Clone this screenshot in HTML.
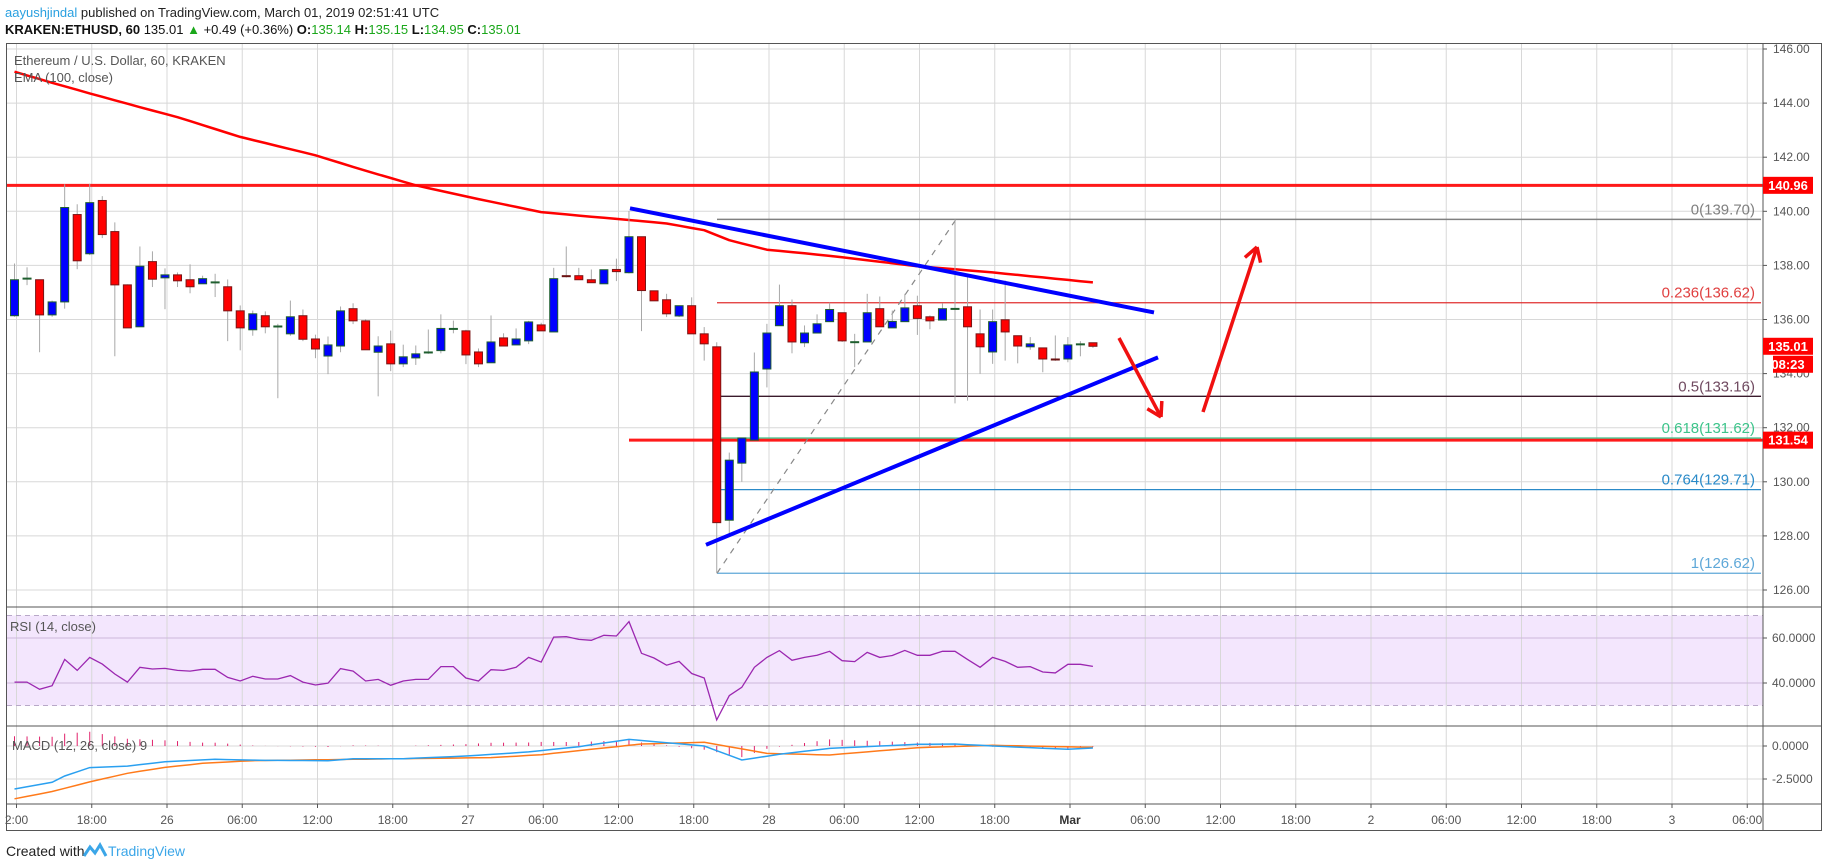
<!DOCTYPE html>
<html><head><meta charset="utf-8">
<style>
body{margin:0;background:#fff;width:1828px;height:868px;overflow:hidden;font-family:"Liberation Sans Narrow","Liberation Sans",sans-serif;}
#hdr1{position:absolute;left:5px;top:5px;font-size:13px;color:#222;white-space:nowrap}
#hdr2{position:absolute;left:5px;top:22px;font-size:13px;color:#111;white-space:nowrap}
.g{color:#1aa71a}.b{color:#2aa0e0}
svg{position:absolute;left:0;top:0}
</style></head><body>
<div id="hdr1"><span class="b">aayushjindal</span> published on TradingView.com, March 01, 2019 02:51:41 UTC</div>
<div id="hdr2"><b>KRAKEN:ETHUSD, 60</b> 135.01 <span class="g">▲</span> +0.49 (+0.36%) <b>O:</b><span class="g">135.14</span> <b>H:</b><span class="g">135.15</span> <b>L:</b><span class="g">134.95</span> <b>C:</b><span class="g">135.01</span></div>
<svg id="chart" width="1828" height="868" xmlns="http://www.w3.org/2000/svg"></svg>
<script>
const opens=[136.14,137.52,137.47,136.17,136.65,139.88,138.43,140.40,139.25,137.28,135.73,138.14,137.54,137.65,137.47,137.32,137.38,137.21,136.32,135.62,136.14,135.75,135.47,136.14,135.28,134.65,135.02,136.40,135.95,134.79,135.10,134.36,134.58,134.73,134.85,135.66,135.58,134.80,134.40,135.32,135.06,135.21,135.80,135.54,137.62,137.62,137.47,137.32,137.85,137.73,139.06,137.06,136.73,136.13,136.51,135.47,134.99,128.58,130.69,131.54,134.17,135.77,136.51,135.14,135.50,135.92,136.25,135.17,135.17,136.40,135.69,135.92,136.51,136.10,135.98,136.40,136.47,135.47,134.80,135.99,135.40,134.99,134.95,134.54,134.54,135.09,135.14];
const highs=[138.07,137.93,137.47,136.70,141.00,140.26,141.02,140.56,139.59,137.30,138.70,138.52,137.89,137.74,138.04,137.62,137.69,137.48,136.52,136.33,136.30,135.84,136.70,136.37,135.44,135.37,136.48,136.60,136.01,135.38,135.59,135.07,135.04,135.63,136.19,135.96,135.62,134.93,136.15,135.49,135.67,135.95,135.88,137.91,138.70,137.91,137.85,137.84,138.25,140.01,139.06,137.06,136.95,136.51,136.82,135.72,135.16,131.08,131.62,134.78,135.84,137.29,136.74,135.78,136.19,136.62,136.25,135.47,136.95,136.85,136.33,136.95,136.88,136.15,136.60,139.70,137.57,136.37,136.37,137.44,135.40,135.35,134.95,135.41,135.35,135.20,135.15];
const lows=[136.10,137.27,134.79,136.10,136.40,137.86,138.38,139.01,134.64,135.69,135.73,137.20,136.38,137.20,136.97,137.32,136.83,135.20,134.86,135.40,135.49,133.09,135.40,135.20,134.57,133.98,134.79,135.83,134.88,133.16,134.09,134.24,134.32,134.73,134.75,135.49,134.35,134.24,134.40,135.02,135.06,135.09,135.58,135.54,137.55,137.47,137.36,137.32,137.42,137.70,135.57,136.69,136.09,136.09,135.47,134.48,126.62,128.06,130.00,131.54,133.49,135.77,134.75,134.98,135.50,135.92,135.17,134.24,135.17,135.73,135.69,135.92,135.43,135.64,135.98,132.90,133.00,133.99,134.36,134.48,134.38,134.88,134.05,134.47,134.42,134.64,134.95];
const closes=[137.47,137.53,136.17,136.65,140.14,138.17,140.32,139.14,137.28,135.69,137.97,137.49,137.65,137.43,137.21,137.51,137.39,136.32,135.69,136.21,135.73,135.76,136.10,135.27,134.91,135.06,136.32,135.95,134.88,135.02,134.36,134.62,134.73,134.80,135.67,135.67,134.69,134.36,135.17,135.02,135.28,135.91,135.58,137.51,137.58,137.47,137.36,137.84,137.77,139.06,137.07,136.69,136.21,136.51,135.47,135.10,128.49,130.80,131.62,134.06,135.50,136.51,135.17,135.50,135.84,136.37,135.21,135.18,136.25,135.73,135.93,136.43,136.04,135.95,136.40,136.41,135.73,134.99,135.92,135.54,135.02,135.10,134.54,134.47,135.06,135.10,135.01];
const emaIdx=[0,3,6,10,13,18,24,28,32,37,42,46,49,52,55,57,60,63,66,72,78,86];
const emaVal=[145.16,144.75,144.36,143.85,143.48,142.75,142.07,141.5,140.96,140.45,139.97,139.8,139.68,139.55,139.30,138.93,138.58,138.45,138.30,137.97,137.74,137.37];
const rsiVals=[40.4,40.4,37.2,38.8,50.5,45.6,51.4,48.4,44,40.4,47,46.2,46.5,45.6,45.3,46.1,46.1,42.5,40.9,43,41.8,41.8,43.3,40.4,39.1,39.9,46.4,45.3,40.9,41.6,39,40.9,41.6,41.6,47.3,47.3,42.2,40.9,45.9,45.6,47,51.4,49.3,60.4,60.6,59.4,59,61.2,60.9,67.3,53.2,51.1,47.9,49.6,44.2,42.2,23.6,34.4,38.1,47,51.4,54.4,50.1,51.4,52.3,54.1,49.9,49.5,53.6,51.4,52.2,54.5,52.3,52.3,54.1,54.1,50.5,47,51.4,49.6,47,47.3,44.9,44.5,48.3,48.3,47.4];
const macdIdx=[0,3,4,6,9,12,16,20,25,27,31,36,41,45,49,55,58,61,65,72,75,78,84,86];
const macdVal=[-3.26,-2.75,-2.27,-1.64,-1.52,-1.19,-1.01,-1.09,-1.11,-0.96,-0.96,-0.76,-0.45,-0.05,0.5,0,-1.06,-0.63,-0.18,0.13,0.15,0,-0.25,-0.15];
const sigIdx=[0,3,6,9,12,15,19,31,38,42,45,50,55,57,60,65,72,78,86];
const sigVal=[-4,-3.45,-2.72,-2.07,-1.62,-1.31,-1.11,-0.96,-0.88,-0.66,-0.35,0.15,0.28,-0.05,-0.56,-0.68,-0.13,0.05,-0.1];
const priceTicks=[146,144,142,140,138,136,134,132,130,128,126];
const timeLabels=["2:00","18:00","26","06:00","12:00","18:00","27","06:00","12:00","18:00","28","06:00","12:00","18:00","Mar","06:00","12:00","18:00","2","06:00","12:00","18:00","3","06:00"];
const fibLevels=["0","0.236","0.5","0.618","0.764","1"];
const fibPrices=[139.70,136.62,133.16,131.62,129.71,126.62];
const fibColors=["#808080","#e03030","#3a1a2c","#3cc48a","#2a8ac8","#5fa8d8"];
const fibText=["#808080","#e04040","#704a60","#3cc48a","#2a8ac8","#5fa8d8"];

const S=document.getElementById('chart');const NS='http://www.w3.org/2000/svg';
function el(t,a,p){const e=document.createElementNS(NS,t);for(const k in a)e.setAttribute(k,a[k]);(p||S).appendChild(e);return e;}
const X=i=>14.5+i*12.54;
const Y=p=>49+(146-p)*27.05;
const YR=v=>638+(60-v)*2.25;
const YM=v=>746-v*13.2;
const AX=1763;
function interp(idx,val,i){for(let k=0;k<idx.length-1;k++){if(i>=idx[k]&&i<=idx[k+1]){const t=(i-idx[k])/(idx[k+1]-idx[k]);return val[k]+t*(val[k+1]-val[k]);}}return val[val.length-1];}
function txt(x,y,s,a){const t=el('text',Object.assign({x:x,y:y,'font-size':12,fill:'#555','font-family':'"Liberation Sans Narrow","Liberation Sans",sans-serif'},a||{}));t.textContent=s;return t;}

let band=el('rect',{x:7,y:YR(70),width:AX-7,height:YR(30)-YR(70),fill:'#f3e6fd'});


timeLabels.forEach((l,k)=>{const x=16.5+k*75.25;
 const g=el('line',{x1:x,x2:x,y1:44,y2:804,stroke:'#d8d8d8','stroke-width':1});
 
 
 el('line',{x1:x,x2:x,y1:804,y2:808,stroke:'#555'});
 const t=txt(x,824,l,{'text-anchor':'middle',fill:l==='Mar'?'#333':'#555','font-weight':l==='Mar'?'bold':'normal'});
 
 
});
priceTicks.forEach(p=>{const y=Y(p);
 const g=el('line',{x1:7,x2:AX,y1:y,y2:y,stroke:'#d8d8d8'});
 
 
 el('line',{x1:AX,x2:AX+4,y1:y,y2:y,stroke:'#555'});
 const t=txt(AX+10,y+4,p.toFixed(2),{'font-family':'"Liberation Sans",sans-serif'});
 
 
});
[60,40].forEach(v=>{el('line',{x1:7,x2:AX,y1:YR(v),y2:YR(v),stroke:'#cdb8dc'});el('line',{x1:AX,x2:AX+4,y1:YR(v),y2:YR(v),stroke:'#555'});
 const t=txt(AX+9,YR(v)+4,v.toFixed(4),{'font-family':'"Liberation Sans",sans-serif'});
 
 });
[70,30].forEach(v=>el('line',{x1:7,x2:AX,y1:YR(v),y2:YR(v),stroke:'#b8a8c8','stroke-dasharray':'5,4'}));
[0,-2.5].forEach(v=>{el('line',{x1:7,x2:AX,y1:YM(v),y2:YM(v),stroke:'#d8d8d8'});el('line',{x1:AX,x2:AX+4,y1:YM(v),y2:YM(v),stroke:'#555'});
 const t=txt(AX+9,YM(v)+4,v===0?'0.0000':'-2.5000',{'font-family':'"Liberation Sans",sans-serif'});
 
 });

let r1=el('line',{x1:7,x2:AX,y1:Y(140.96),y2:Y(140.96),stroke:'#ff1a1a','stroke-width':3});


let r2=el('line',{x1:629,x2:AX,y1:Y(131.54),y2:Y(131.54),stroke:'#ff1a1a','stroke-width':3});



fibPrices.forEach((p,k)=>{const y=Y(p);
 const l=el('line',{x1:717,x2:AX-2,y1:y,y2:y,stroke:fibColors[k],'stroke-width':k===0?1.5:1.3});
 
 
 const t=txt(1755,y-5,fibLevels[k]+'('+p.toFixed(2)+')',{'text-anchor':'end','font-size':15,fill:fibText[k],'font-family':'"Liberation Sans",sans-serif'});
 
 
});
let dg=el('line',{x1:717,y1:Y(126.62),x2:956,y2:Y(139.70),stroke:'#888','stroke-width':1.2,'stroke-dasharray':'6,6'});



let ep='';for(let i=0;i<closes.length;i++){ep+=(i?'L':'M')+X(i).toFixed(1)+','+Y(interp(emaIdx,emaVal,i)).toFixed(1);}
let ema=el('path',{d:ep,fill:'none',stroke:'#f00','stroke-width':2.5,'stroke-linejoin':'round'});



for(let i=0;i<closes.length;i++){const o=opens[i],c=closes[i],x=X(i);
 const w=el('line',{x1:x,x2:x,y1:Y(highs[i]),y2:Y(lows[i]),stroke:'#a8a8a8','stroke-width':1});
 
 
 const top=Y(Math.max(o,c)),h=Math.abs(Y(o)-Y(c));
 let r;
 if(h<2){r=el('rect',{x:x-4.5,y:top-0.5,width:9,height:2,fill:c>=o?'#1e5e2e':'#6a1010'});}
 else r=el('rect',{x:x-4,y:top,width:8,height:h,fill:c>=o?'#0000ff':'#ff0000',stroke:c>=o?'#1e5e2e':'#7a1515','stroke-width':1});
 
 
}

let t1=el('line',{x1:630,y1:Y(140.11),x2:1154,y2:Y(136.26),stroke:'#0000ff','stroke-width':4});


let t2=el('line',{x1:706,y1:Y(127.67),x2:1158,y2:Y(134.6),stroke:'#0000ff','stroke-width':4});



function arrow(x1,y1,x2,y2,name){const g=el('g',{});
 
 
 el('line',{x1:x1,y1:y1,x2:x2,y2:y2,stroke:'#f01010','stroke-width':3.5},g);
 const a=Math.atan2(y2-y1,x2-x1),L=16;
 [a+2.6,a-2.6].forEach(b=>el('line',{x1:x2,y1:y2,x2:x2+L*Math.cos(b),y2:y2+L*Math.sin(b),stroke:'#f01010','stroke-width':3.5},g));}
arrow(1119,338,1161,417,'down-arrow');
arrow(1203,412,1257,247,'up-arrow');

let rp='';rsiVals.forEach((v,i)=>rp+=(i?'L':'M')+X(i).toFixed(1)+','+YR(v).toFixed(1));
let rsi=el('path',{d:rp,fill:'none',stroke:'#9b27b0','stroke-width':1.3});



let mp='',sp='';
for(let i=0;i<closes.length;i++){const m=interp(macdIdx,macdVal,i),s=interp(sigIdx,sigVal,i);
 mp+=(i?'L':'M')+X(i).toFixed(1)+','+YM(m).toFixed(1);sp+=(i?'L':'M')+X(i).toFixed(1)+','+YM(s).toFixed(1);
 const h=m-s;const b=el('line',{x1:X(i),x2:X(i),y1:YM(0),y2:YM(h),stroke:'#e0206a','stroke-width':1});
 
 }
let sl=el('path',{d:sp,fill:'none',stroke:'#ff7a1a','stroke-width':1.5});


let ml=el('path',{d:mp,fill:'none',stroke:'#2aa0f0','stroke-width':1.5});



el('rect',{x:6.5,y:43.5,width:1815,height:787,fill:'none',stroke:'#555','stroke-width':1});
el('line',{x1:AX,x2:AX,y1:43,y2:831,stroke:'#555'});
[607,726,804].forEach(y=>el('line',{x1:6,x2:1822,y1:y,y2:y,stroke:'#555'}));

function box(p,s,name,dy,x0){const y=Y(p)+(dy||0);const g=el('g',{});
 
 
 el('rect',{x:x0||AX,y:y-8.5,width:1813-(x0||AX),height:17,fill:'#ff0000'},g);
 txt(1788,y+4.5,s,{'text-anchor':'middle',fill:'#fff','font-weight':'bold','font-size':13,'font-family':'"Liberation Sans",sans-serif'},g);}
box(140.96,'140.96','resistance-price-label');
box(131.54,'131.54','support-price-label');
box(135.01,'135.01','last-price-label');
box(135.01,'08:23','bar-countdown-label',18,1773);

let lg=txt(14,65,'Ethereum / U.S. Dollar, 60, KRAKEN',{'font-size':13});
let le=txt(14,82,'EMA (100, close)',{'font-size':13});
let lr=txt(10,631,'RSI (14, close)',{'font-size':13});
let lm=txt(12,750,'MACD (12, 26, close) 9',{'font-size':13});
let cw=txt(6,856,'Created with',{'font-size':14,fill:'#222'});
el('path',{d:'M84,856 l6,-9 l5,6 l5,-8 l6,11',fill:'none',stroke:'#3ba6e8','stroke-width':3});
let tv=txt(108,856,'TradingView',{'font-size':14,fill:'#3ba6e8'});
</script>
</body></html>
